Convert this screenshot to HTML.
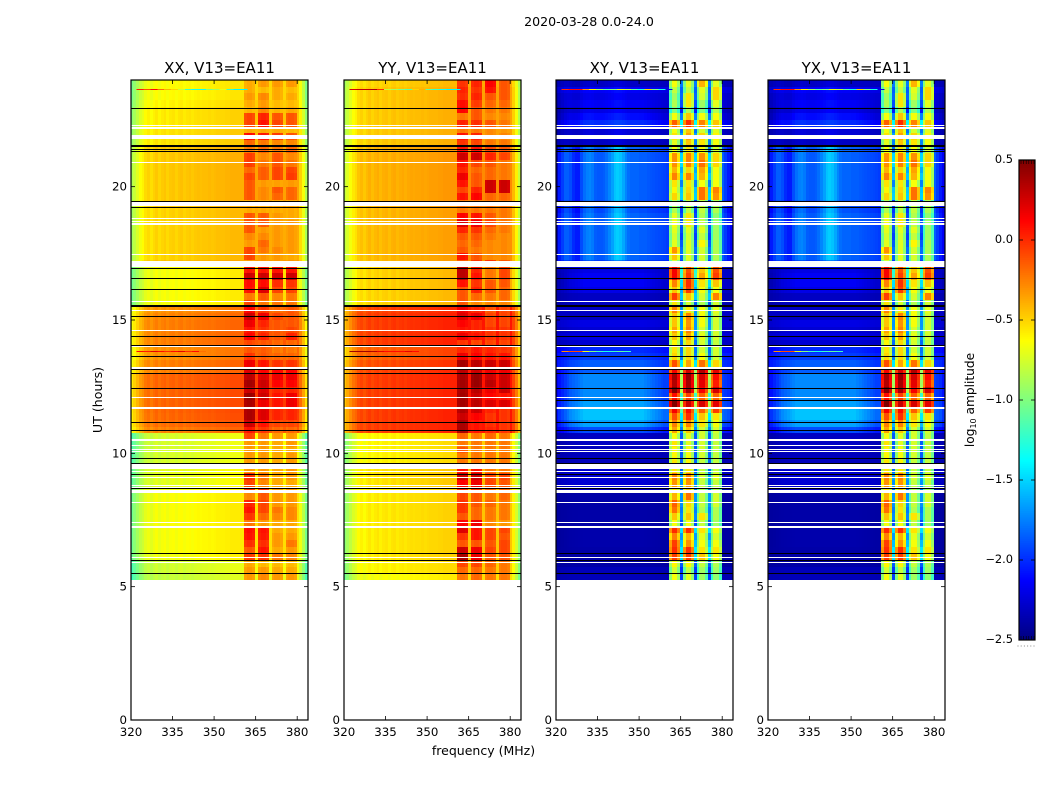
<!DOCTYPE html>
<html lang="en">
<head>
<meta charset="utf-8">
<title>2020-03-28 0.0-24.0</title>
<style>
html,body{margin:0;padding:0;background:#fff;width:1050px;height:800px;overflow:hidden}
svg{display:block}
text{font-family:"DejaVu Sans","Liberation Sans",sans-serif;fill:#000}
</style>
</head>
<body>
<svg id="figure" xmlns="http://www.w3.org/2000/svg" width="1050" height="800" viewBox="0 0 1050 800">
  <text x="589" y="26" font-size="12.6" text-anchor="middle">2020-03-28 0.0-24.0</text>
  <text x="483.5" y="755" font-size="12.5" text-anchor="middle">frequency (MHz)</text>
  <text transform="translate(102 400) rotate(-90)" font-size="12.6" text-anchor="middle">UT (hours)</text>
  <text transform="translate(974 400) rotate(-90)" font-size="12.2" text-anchor="middle">log<tspan font-size="8" dy="2">10</tspan><tspan dy="-2"> amplitude</tspan></text>
</svg>
<script>
// ---- axis data ----
const panelTitles = ['XX, V13=EA11', 'YY, V13=EA11', 'XY, V13=EA11', 'YX, V13=EA11'];
const freqTicks = [320, 335, 350, 365, 380];
const hourTicks = [0, 5, 10, 15, 20];
const colorTicks = [0.5, 0, -0.5, -1, -1.5, -2, -2.5];
const channelCount = 64;
const rowHours = 0.25;
const firstRowTopHour = 24;

// per-channel offsets (log10 amplitude) read from the frequency structure
const coProfile = [-.45,-.37,-.29,-.21,-.17,-.1,-.07,-.11,-.07,-.04,-.08,-.05,-.03,-.07,-.04,-.03,-.06,-.03,-.02,-.05,-.03,-.02,-.04,-.02,-.01,-.02,-.01,-.01,0,-.01,0,.01,.01,.01,.02,.02,.03,.03,.03,.03,.03,-.05,-.02,-.02,-.05,.07,-.05,-.02,-.02,-.05,.07,-.05,-.02,-.02,-.05,.07,-.05,-.02,-.02,-.05,.07,-.07,-.23,-.43];
const crossStripe = [-.5,-.2,-.1,0,0,-.05,-.15,-.2,-.2,-.05,.05,.1,.12,.08,0,-.02,-.02,0,.05,.12,.2,.3,.33,.3,.22,.12,.05,.02,.02,.02,0,0,0,-.02,-.03,-.04,-.05,-.06,-.07,-.08,-.1,0,0,0,0,0,0,0,0,0,0,0,0,0,0,0,0,0,0,0,0,-.1,-.2,-.3];
const crossGlow = [-.6,-.3,-.1,.1,.3,.5,.6,.7,.8,.9,1,1,1,1,1,1,1,1,1,1,1,1,1,1,1,1,1,1,1,1,1,1,.9,.8,.7,.6,.5,.4,.3,.2,.2,0,0,0,0,0,0,0,0,0,0,0,0,0,0,0,0,0,0,0,.2,.1,0,-.3];
const crossBlockEdge = [-.25,.05,.05,-.2];

// per-row levels [background, block1, block2, block3, block4]; 0.25 h rows from 24 h down
const xxRows = [[-.58,-.35,-.3,-.3,-.3],[-.58,-.35,-.4,-.35,-.4],[-.58,-.3,-.25,-.35,-.35],[-.55,-.35,-.3,-.4,-.4],[-.52,-.38,-.25,-.38,-.35],[-.52,-.05,.05,-.1,-.1],[-.52,-.05,.1,-.05,-.1],[-.5,-.35,-.35,-.35,-.4],[-.5,.12,.08,-.02,-.1],[-.5,-.15,-.2,-.25,-.25],
[-.42,-.2,-.15,-.2,-.15],[-.42,-.03,-.25,-.1,-.25],[-.42,-.03,-.2,-.1,-.2],[-.42,-.15,-.12,-.05,-.05],[-.42,-.05,-.12,-.05,-.02],[-.42,-.1,-.3,-.32,-.3],[-.42,-.1,-.25,-.1,-.15],[-.42,-.1,-.25,-.15,-.15],[-.42,-.35,-.35,-.35,-.35],[-.45,-.35,-.35,-.35,-.35],
[-.45,-.1,-.12,-.3,-.35],[-.45,-.1,-.12,-.3,-.3],[-.45,-.1,-.3,-.3,-.3],[-.45,-.25,-.25,-.3,-.3],[-.45,-.3,-.15,-.3,-.3],[-.45,-.05,-.2,-.25,-.3],[-.45,-.05,-.3,-.3,-.35],[-.4,-.3,-.3,-.3,-.3],[-.6,.1,.1,.1,.1],[-.6,.3,.3,.28,.3],
[-.6,.12,.12,.02,0],[-.6,.1,.25,-.05,-.05],[-.6,-.2,-.1,-.25,-.2],[-.6,-.05,-.2,-.2,-.2],[-.25,.15,0,-.15,-.1],[-.22,.3,.2,-.05,-.1],[-.2,.2,.05,-.1,-.1],[-.2,.1,0,-.1,-.05],[-.2,.15,.05,-.1,.05],[-.2,-.05,-.1,-.15,-.15],
[-.25,-.1,-.12,-.2,-.2],[-.25,0,-.1,-.15,-.15],[-.2,.2,.1,0,0],[-.2,.25,.15,.15,.15],[-.12,.35,.25,.2,.2],[-.12,.42,.3,.15,.15],[-.12,.3,.25,.05,.05],[-.12,.45,.3,.1,.2],[-.12,.4,.2,.1,.2],[-.12,.4,.25,.05,.05],
[-.13,.4,.25,.05,.05],[-.15,.3,.1,-.05,-.05],[-.2,.1,0,-.15,-.15],[-.7,-.05,-.2,-.3,-.3],[-.7,-.3,-.3,-.35,-.3],[-.7,-.3,-.3,-.35,-.35],[-.7,-.3,-.3,-.35,-.3],[-.7,-.3,-.3,-.35,-.3],[-.66,-.3,-.3,-.35,-.3],[-.66,0,-.2,-.35,-.3],
[-.66,-.05,-.25,-.35,-.35],[-.62,0,0,-.3,-.3],[-.6,-.25,-.1,-.3,-.3],[-.6,.05,-.05,-.3,-.3],[-.6,.1,-.05,-.2,-.25],[-.6,0,-.15,-.25,-.25],[-.6,-.2,-.3,-.35,-.35],[-.6,.12,.1,-.35,-.35],[-.6,.1,.08,-.3,-.3],[-.6,.02,.02,-.3,-.2],
[-.6,-.1,.1,-.35,-.3],[-.62,-.02,0,-.2,-.25],[-.72,-.35,-.4,-.4,-.4],[-.72,-.3,-.3,-.35,-.35],[-.75,-.3,-.25,-.3,-.3]];

const yyRows = [[-.45,0,.05,.15,-.1],[-.42,.05,0,.1,-.1],[-.42,.02,.05,-.1,-.1],[-.42,.12,-.02,-.15,-.15],[-.42,.15,-.1,-.2,-.2],[-.42,-.2,-.1,-.25,-.25],[-.42,.05,.02,-.1,-.2],[-.42,-.2,-.2,-.25,-.3],[-.42,.1,.05,-.25,-.25],[-.42,0,-.05,-.2,-.2],
[-.35,.1,.1,-.05,-.1],[-.35,.3,.3,.05,-.05],[-.35,.1,-.05,-.1,-.2],[-.35,.05,-.15,-.15,-.2],[-.35,.2,-.1,-.15,-.2],[-.35,.1,-.1,.3,.3],[-.35,-.05,.05,.3,.3],[-.35,.1,.15,-.15,-.15],[-.35,-.2,-.2,-.2,-.2],[-.37,-.2,-.2,-.2,-.2],
[-.37,.15,.1,-.1,-.2],[-.37,.25,.2,-.05,-.2],[-.37,.05,0,-.15,-.2],[-.37,-.1,-.1,-.2,-.25],[-.37,-.15,-.15,-.25,-.25],[-.37,-.1,-.2,-.25,-.25],[-.37,.1,-.1,-.25,-.25],[-.37,-.1,0,0,-.1],[-.45,.35,.05,-.2,-.05],[-.45,.35,.1,-.2,-.05],
[-.45,.1,0,-.1,-.1],[-.45,-.1,.05,-.1,-.15],[-.45,-.1,-.15,-.2,-.15],[-.45,-.1,-.25,-.25,-.25],[-.02,.2,.05,-.1,-.05],[0,.25,.2,-.05,-.05],[0,.15,.05,-.05,-.05],[0,.1,.05,0,0],[0,.2,.1,0,0],[0,0,-.05,-.05,-.05],
[-.1,.05,.1,.05,0],[-.1,.2,.15,.1,.1],[-.05,.42,.35,.3,.3],[-.02,.35,.3,.2,.2],[0,.4,.45,.3,.3],[0,.42,.45,.35,.3],[0,.4,.35,.2,.3],[0,.42,.3,.15,.1],[0,.42,.35,.25,.25],[0,.38,.3,.05,0],
[0,.3,.15,0,0],[0,.4,.1,.02,0],[0,.4,.1,.05,0],[-.55,-.15,-.2,-.15,-.2],[-.55,-.2,-.2,-.2,-.2],[-.55,-.1,-.2,-.2,-.2],[-.55,-.2,-.2,-.2,-.2],[-.55,-.2,-.2,-.2,-.2],[-.5,.1,.1,-.2,-.2],[-.5,.3,.3,-.05,-.05],
[-.5,.15,.2,-.05,-.1],[-.52,0,0,-.15,-.15],[-.52,-.05,-.1,-.2,-.15],[-.52,0,-.1,-.15,-.2],[-.52,0,-.15,-.2,-.2],[-.52,-.1,-.15,-.2,-.2],[-.52,.15,.2,-.25,-.3],[-.52,.25,.1,-.05,-.05],[-.52,0,.1,-.05,-.1],[-.52,-.1,-.1,-.1,-.05],
[-.52,.3,.2,-.05,-.05],[-.52,.4,.2,-.1,-.1],[-.55,-.05,-.05,-.15,-.2],[-.55,-.15,-.15,-.2,-.2],[-.6,-.2,-.15,-.2,-.2]];

// per-row [background, stripe weight, glow weight, block1, block2, block3, block4]
const xyRows = [[-2.3,.2,0,-.7,-.75,-.45,-.75],[-2.2,.2,.05,-.85,-.85,-.75,-.55],[-2.25,.2,.05,-.95,-.6,-.8,-.55],[-2.25,.2,.1,-.9,-.6,-.95,-.75],[-2.3,.2,.1,-1.05,-.9,-1.05,-.9],[-2.25,.2,.15,-.7,-.5,-.7,-.7],[-2.15,.2,.15,-.2,-.05,-.3,-.5],[-2.3,.2,.05,-.7,-.5,-.8,-.75],[-2.3,.2,.05,-.6,-.4,-.55,-.65],[-2.3,.2,0,-.75,-.5,-.6,-.7],
[-1.85,1,0,-.7,-.6,-.7,-.8],[-1.85,1,0,-.35,-.3,-.35,-.55],[-1.85,1,0,-.35,-.3,-.25,-.55],[-1.85,1,0,-.45,-.55,-.4,-.7],[-1.85,1,0,-.3,-.3,-.45,-.7],[-1.85,1,0,-.6,-.6,-.7,-.7],[-1.85,1,0,-.65,-.55,-.25,-.3],[-1.85,1,0,-.55,-.5,-.25,-.35],[-1.9,1,0,-.9,-.85,-.85,-.9],[-1.9,1,0,-.9,-.85,-.85,-.9],
[-1.85,1,0,-.75,-.6,-.9,-1],[-1.85,1,0,-.7,-.6,-.85,-.95],[-1.85,1,0,-.75,-.75,-.75,-.95],[-1.85,1,0,-.8,-.8,-.85,-.95],[-1.85,1,0,-.75,-.75,-.65,-.9],[-1.85,1,0,-.35,-.75,-.8,-.9],[-1.85,1,0,-.5,-.75,-.8,-.9],[-1.95,.7,0,-.8,-.8,-.85,-.95],[-2.3,0,.1,.1,-.15,-.5,-.15],[-2.3,0,.15,.1,-.1,-.4,-.1],
[-2.3,0,.15,-.3,-.05,-.6,-.5],[-2.3,0,.1,-.5,-.1,-.7,-.7],[-2.35,0,.05,-.1,-.5,-.8,-.3],[-2.35,0,.05,-.6,-.8,-.9,-.8],[-2.3,0,0,-.3,-.6,-.7,-.75],[-2.3,0,0,-.5,-.3,-.7,-.8],[-2.25,0,.05,-.5,-.35,-.7,-.8],[-2.3,0,.05,-.4,-.3,-.8,-.8],[-2.25,0,.05,-.5,-.4,-.75,-.8],[-2.3,0,.05,-.65,-.55,-.8,-.85],
[-2.1,0,.1,-.6,-.55,-.8,-.8],[-2.05,0,.1,-.55,-.55,-.7,-.8],[-2,0,.15,-.15,-.4,-.25,-.55],[-2.05,0,.2,.1,.2,.3,.15],[-2,0,.28,.35,.4,.2,.05],[-2,0,.28,.3,.35,.15,0],[-2,0,.28,.45,.35,.1,.2],[-2,0,.28,.05,-.1,-.2,-.2],[-1.95,0,.3,.45,.25,.2,.15],[-1.88,0,.33,.1,.05,-.2,-.1],
[-1.88,0,.33,-.15,-.05,-.5,-.6],[-1.95,0,.3,-.3,-.3,-.6,-.7],[-2.1,0,.2,-.4,-.5,-.8,-.8],[-2.35,0,.05,-.7,-.75,-.8,-.85],[-2.35,0,.05,-.6,-.75,-.8,-.85],[-2.35,0,.03,-.65,-.7,-.8,-.85],[-2.35,0,.03,-.65,-.7,-.8,-.85],[-2.35,0,.03,-.6,-.65,-.85,-.85],[-2.3,0,.03,-.6,-.6,-.85,-.85],[-2.3,0,.05,-.3,-.3,-.8,-.75],
[-2.3,0,.05,-.35,-.35,-.85,-.85],[-2.35,0,.03,-.6,-.5,-.9,-.9],[-2.4,0,.02,-.45,-.25,-.85,-.8],[-2.4,0,.02,-.2,-.55,-.85,-.8],[-2.4,0,.02,-.25,-.6,-.9,-.9],[-2.4,0,.02,-.5,-.5,-.6,-.9],[-2.4,0,.02,-.7,-.7,-.85,-.95],[-2.4,0,.03,-.05,-.05,-.6,-.7],[-2.4,0,.03,-.3,-.45,-.75,-.8],[-2.4,0,.03,-.1,-.35,-.7,-.7],
[-2.4,0,.02,-.05,-.05,-.6,-.6],[-2.4,0,.02,-.1,-.1,-.5,-.7],[-2.4,0,.02,-.65,-.65,-.85,-.9],[-2.35,0,.02,-.8,-.85,-.95,-.95],[-2.35,0,.02,-.7,-.75,-.95,-1]];
const yxRows = xyRows;

// flagged (white) spans as [top hour, bottom hour]
const whiteSpans = [[22.32,22.28],[22.25,22.17],[21.92,21.80],[20.93,20.89],[19.42,19.29],[18.84,18.80],[18.73,18.69],[18.62,18.58],[17.49,17.45],[17.21,16.99],[15.70,15.66],[15.39,15.35],[14.64,14.60],[14.06,14.00],[13.24,13.18],[12.13,12.09],[11.73,11.67],[10.52,10.48],[10.30,10.26],[10.18,10.14],[10.08,10.04],[9.64,9.41],[9.33,9.29],[9.12,9.06],[8.81,8.77],[8.72,8.68],[8.64,8.60],[8.57,8.53],[8.16,8.12],[7.43,7.37],[7.29,7.21],[6.13,6.09],[5.91,5.87]];
// thin black marks in UT hours, common to all panels
const blackHours = [22.94,21.41,21.33,19.46,19.24,16.95,16.57,16.16,15.15,14.40,14.07,13.65,13.17,13.0,12.44,11.17,10.87,9.82,9.64,9.22,8.70,6.26,6.0,5.51];
const thickBlackHours = [21.57,15.56];
const crossOnlyBlackHours = [12.0];
// narrow streak rows, 4-channel groups
const streakHours = [23.66, 13.85];
const xxStreakA = [.05,-.1,.1,-.2,-.4,-.5,-.8,-1.2,-1.3,-1.3,-1,-.9,-.7,-1.2,-1.4,-1.4];
const xxStreakB = [.1,.05,.2,.1,.0,.1,.2,0,.1,-.2,-.2,-.2,-.2,.1,.1,.1];
const yyStreakA = [.25,.3,.3,.35,.0,-.8,-.9,-1,-1.1,-.5,-.4,-1.1,-1.2,-1.3,-1.4,-1.4];
const yyStreakB = [.4,.4,.4,.35,.2,.1,.1,.1,.2,.1,.1,.2,.1,.1,.1,.1];
const xyStreakA = [.0,.1,.1,-.3,-.6,-.9,-1.1,-1,-.7,-.8,-1.1,-1.3,-.5,-1,-1.3,-2.2];
const xyStreakB = [-.3,-.1,-.1,-.7,-1,-1.2,-1.3,-1.2,-1.1,-1.2,-1.4,-1.3,-1.5,-1.6,-1.9,-2.2];

const panelLefts = [131, 344, 556, 768];
const panelRows = [xxRows, yyRows, xyRows, yxRows];
const panelStreaks = [[xxStreakA, xxStreakB], [yyStreakA, yyStreakB], [xyStreakA, xyStreakB], [xyStreakA, xyStreakB]];
const panelNames = ['xx', 'yy', 'xy', 'yx'];

// ---- scales ----
const NS = 'http://www.w3.org/2000/svg';
const svg = document.getElementById('figure');
const plotTop = 80, plotBottom = 720, plotW = 177;
const mhzPx = 2.77;
const hourPx = (plotBottom - plotTop) / 24;
function yOf(h){ return plotBottom - h * hourPx; }
function xOf(left, f){ return left + (f - 320) * mhzPx; }
function channelEdge(i){ return i === 0 ? 320 : 320 + i - 0.2; }
function make(tag, parent){ const el = document.createElementNS(NS, tag); parent.appendChild(el); return el; }
function lerp(p){ return Math.max(0, Math.min(1, p)); }
function jet(v){
  const t = lerp((v + 2.5) / 3);
  const r = lerp(Math.min(4 * t - 1.5, -4 * t + 4.5));
  const g = lerp(Math.min(4 * t - 0.5, -4 * t + 3.5));
  const b = lerp(Math.min(4 * t + 0.5, -4 * t + 2.5));
  return 'rgb(' + Math.round(r * 255) + ',' + Math.round(g * 255) + ',' + Math.round(b * 255) + ')';
}
function blockIndex(ch){
  if (ch >= 41 && ch <= 44) return [0, ch - 41];
  if (ch >= 46 && ch <= 49) return [1, ch - 46];
  if (ch >= 51 && ch <= 54) return [2, ch - 51];
  if (ch >= 56 && ch <= 59) return [3, ch - 56];
  return null;
}
function cellValue(row, ch, cross){
  const bi = blockIndex(ch);
  if (!cross) {
    if (bi) return row[1 + bi[0]] + coProfile[ch];
    return row[0] + coProfile[ch];
  }
  if (bi) return row[3 + bi[0]] + crossBlockEdge[bi[1]];
  if (ch >= 41 && ch < 60) {
    return (row[3] + row[4] + row[5] + row[6]) / 4 - 1.1;
  }
  return row[0] + crossStripe[ch] * row[1] + crossGlow[ch] * row[2];
}

// ---- panels ----
panelLefts.forEach(function(left, p){
  const g = make('g', svg);
  
  
  const cross = p >= 2;
  const cells = make('g', g);
  cells.setAttribute('shape-rendering', 'crispEdges');
  panelRows[p].forEach(function(row, r){
    const top = firstRowTopHour - r * rowHours;
    const y0 = Math.round(yOf(top));
    const y1 = Math.round(yOf(top - rowHours));
    for (let ch = 0; ch < channelCount; ch++) {
      const x0 = Math.round(xOf(left, channelEdge(ch)));
      const x1 = ch === channelCount - 1 ? left + plotW : Math.round(xOf(left, channelEdge(ch + 1)));
      const cell = make('rect', cells);
      
      
      cell.setAttribute('x', x0);
      cell.setAttribute('y', y0);
      cell.setAttribute('width', x1 - x0);
      cell.setAttribute('height', y1 - y0);
      cell.setAttribute('fill', jet(cellValue(row, ch, cross)));
    }
  });
  const overlay = make('g', g);
  overlay.setAttribute('shape-rendering', 'crispEdges');
  // streak rows
  streakHours.forEach(function(h, s){
    panelStreaks[p][s].forEach(function(v, k){
      if (k > 9 && s === 1) return;
      const st = make('rect', overlay);
      
      
      const x0 = xOf(left, 322 + k * 2.5);
      st.setAttribute('x', x0);
      st.setAttribute('y', Math.round(yOf(h)));
      st.setAttribute('width', 2.5 * mhzPx + 0.3);
      st.setAttribute('height', 1);
      st.setAttribute('fill', jet(v));
    });
  });
  // white flagged rows
  whiteSpans.forEach(function(span){
    const w = make('rect', overlay);
    const y0 = Math.round(yOf(span[0]));
    
    
    w.setAttribute('x', left);
    w.setAttribute('y', y0);
    w.setAttribute('width', plotW);
    w.setAttribute('height', Math.max(1, Math.round(yOf(span[1])) - y0));
    w.setAttribute('fill', '#fff');
  });
  // black rows
  const drawBlack = function(h, width){
    const b = make('rect', overlay);
    
    
    b.setAttribute('x', left);
    b.setAttribute('y', Math.round(yOf(h)));
    b.setAttribute('width', plotW);
    b.setAttribute('height', width);
    b.setAttribute('fill', '#000');
  };
  blackHours.forEach(function(h){ drawBlack(h, 1); });
  thickBlackHours.forEach(function(h){ drawBlack(h, 2); });
  if (cross) crossOnlyBlackHours.forEach(function(h){ drawBlack(h, 1); });

  // frame
  const frame = make('rect', g);
  
  
  frame.setAttribute('x', left);
  frame.setAttribute('y', plotTop);
  frame.setAttribute('width', plotW);
  frame.setAttribute('height', plotBottom - plotTop);
  frame.setAttribute('fill', 'none');
  frame.setAttribute('stroke', '#000');
  frame.setAttribute('stroke-width', 1.2);

  // x ticks
  freqTicks.forEach(function(f){
    const x = xOf(left, f);
    [[plotBottom, plotBottom - 4], [plotTop, plotTop + 4]].forEach(function(pair){
      const t = make('line', g);
      
      
      t.setAttribute('x1', x);
      t.setAttribute('x2', x);
      t.setAttribute('y1', pair[0]);
      t.setAttribute('y2', pair[1]);
      t.setAttribute('stroke', '#000');
      t.setAttribute('stroke-width', 0.8);
    });
    const lab = make('text', g);
    
    
    lab.setAttribute('x', x);
    lab.setAttribute('y', plotBottom + 16);
    lab.setAttribute('font-size', '11.8');
    lab.setAttribute('text-anchor', 'middle');
    lab.textContent = f;
  });
  // y ticks
  hourTicks.forEach(function(h){
    const y = yOf(h);
    [[left, left + 4], [left + plotW, left + plotW - 4]].forEach(function(pair){
      const t = make('line', g);
      
      
      t.setAttribute('x1', pair[0]);
      t.setAttribute('x2', pair[1]);
      t.setAttribute('y1', y);
      t.setAttribute('y2', y);
      t.setAttribute('stroke', '#000');
      t.setAttribute('stroke-width', 0.8);
    });
    const lab = make('text', g);
    
    
    lab.setAttribute('x', left - 4);
    lab.setAttribute('y', y + 4);
    lab.setAttribute('font-size', '11.8');
    lab.setAttribute('text-anchor', 'end');
    lab.textContent = h;
  });
  const title = make('text', g);
  
  
  title.setAttribute('x', left + plotW / 2);
  title.setAttribute('y', 73);
  title.setAttribute('font-size', '15');
  title.setAttribute('text-anchor', 'middle');
  title.textContent = panelTitles[p];
});

// ---- colorbar ----
const cbX = 1019, cbW = 16, cbTop = 160, cbBottom = 640;
const cbMin = -2.5, cbMax = 0.5, cbSteps = 256;
function cbY(v){ return cbBottom - (v - cbMin) / (cbMax - cbMin) * (cbBottom - cbTop); }
const cb = make('g', svg);


for (let i = 0; i < cbSteps; i++) {
  const v0 = cbMin + (cbMax - cbMin) * i / cbSteps;
  const v1 = cbMin + (cbMax - cbMin) * (i + 1) / cbSteps;
  const s = make('rect', cb);
  
  
  s.setAttribute('x', cbX);
  s.setAttribute('y', cbY(v1));
  s.setAttribute('width', cbW);
  s.setAttribute('height', cbY(v0) - cbY(v1) + 0.5);
  s.setAttribute('fill', jet((v0 + v1) / 2));
}
const cbFrame = make('rect', cb);


cbFrame.setAttribute('x', cbX);
cbFrame.setAttribute('y', cbTop);
cbFrame.setAttribute('width', cbW);
cbFrame.setAttribute('height', cbBottom - cbTop);
cbFrame.setAttribute('fill', 'none');
cbFrame.setAttribute('stroke', '#000');
cbFrame.setAttribute('stroke-width', 1.2);
colorTicks.forEach(function(v){
  const y = cbY(v);
  [[cbX, cbX + 4], [cbX + cbW, cbX + cbW - 4]].forEach(function(pair){
    const t = make('line', cb);
    
    
    t.setAttribute('x1', pair[0]);
    t.setAttribute('x2', pair[1]);
    t.setAttribute('y1', y);
    t.setAttribute('y2', y);
    t.setAttribute('stroke', '#000');
    t.setAttribute('stroke-width', 0.8);
  });
  const lab = make('text', cb);
  
  
  lab.setAttribute('x', cbX - 6);
  lab.setAttribute('y', y + 3);
  lab.setAttribute('font-size', '11.4');
  lab.setAttribute('text-anchor', 'end');
  lab.textContent = (v < 0 ? '\u2212' : '') + Math.abs(v).toFixed(1);
});
for (let k = 0; k < 6; k++) {
  const tickTop = make('line', cb);
  
  
  tickTop.setAttribute('x1', cbX + 2 + k * 2.6);
  tickTop.setAttribute('x2', cbX + 2 + k * 2.6);
  tickTop.setAttribute('y1', cbTop);
  tickTop.setAttribute('y2', cbTop + 4);
  tickTop.setAttribute('stroke', '#000');
  tickTop.setAttribute('stroke-width', 0.6);
  const tickBottom = make('line', cb);
  
  
  tickBottom.setAttribute('x1', cbX + 2 + k * 2.6);
  tickBottom.setAttribute('x2', cbX + 2 + k * 2.6);
  tickBottom.setAttribute('y1', cbBottom - 4);
  tickBottom.setAttribute('y2', cbBottom);
  tickBottom.setAttribute('stroke', '#000');
  tickBottom.setAttribute('stroke-width', 0.6);
  const dot = make('rect', cb);
  
  
  dot.setAttribute('x', cbX - 1.5 + k * 3.2);
  dot.setAttribute('y', 645.5);
  dot.setAttribute('width', 1);
  dot.setAttribute('height', 1);
  dot.setAttribute('fill', '#888');
}
</script>
</body>
</html>
